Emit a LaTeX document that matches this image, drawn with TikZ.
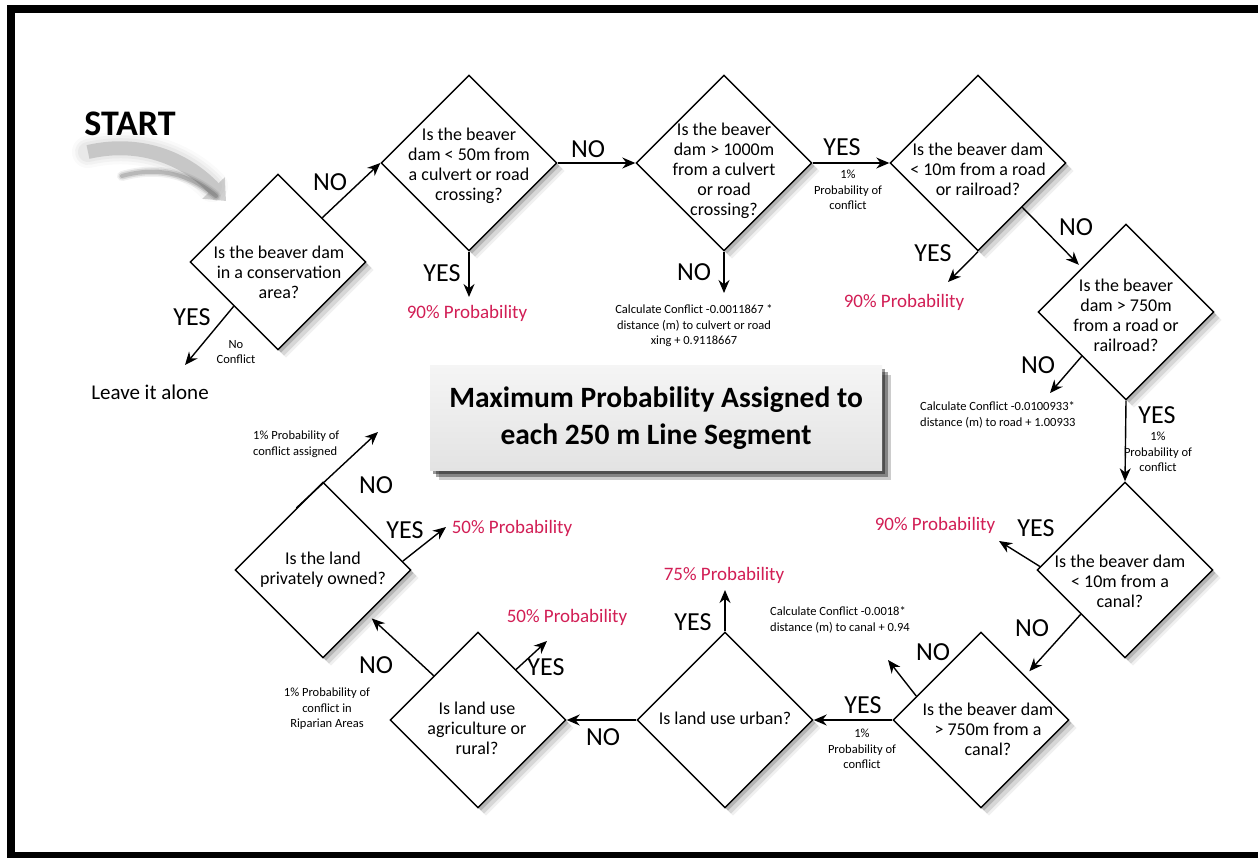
\documentclass[tikz,border=0pt]{standalone}
\usepackage{fontspec}
\setmainfont{Carlito}
\usetikzlibrary{shapes.geometric,arrows.meta,calc,shadows}
\definecolor{probred}{RGB}{210,30,85}
\begin{document}
\begin{tikzpicture}[x=1pt,y=-1pt,
  dia/.style={diamond, draw=black, line width=1.4pt, fill=white, minimum width=176pt, minimum height=176pt, inner sep=0pt,
    drop shadow={shadow xshift=8pt,shadow yshift=-8pt,opacity=0.06,fill=black},
    drop shadow={shadow xshift=6pt,shadow yshift=-6pt,opacity=0.10,fill=black},
    drop shadow={shadow xshift=3pt,shadow yshift=-3pt,opacity=0.16,fill=black}},
  dtext/.style={align=center, font=\fontsize{18}{20}\selectfont, inner sep=0pt},
  yn/.style={font=\fontsize{26}{30}\selectfont, inner sep=0pt},
  small/.style={align=center, font=\fontsize{12.5}{15.5}\selectfont, inner sep=0pt},
  prob/.style={font=\fontsize{19}{22}\selectfont, text=probred, inner sep=0pt},
  arr/.style={line width=1.4pt, -{Stealth[length=13pt,width=11pt]}},
  titlebox/.style={draw=none, top color=gray!8, bottom color=gray!22, minimum width=452pt, minimum height=105pt,
    align=center, font=\fontsize{29.5}{37}\selectfont\bfseries,
    drop shadow={shadow xshift=9pt,shadow yshift=-9pt,opacity=0.2,fill=black},
    drop shadow={shadow xshift=6pt,shadow yshift=-6pt,opacity=0.35,fill=black},
    drop shadow={shadow xshift=3pt,shadow yshift=-3pt,opacity=0.4,fill=black}}
]
\useasboundingbox (0,0) rectangle (1258,857);
\fill[white] (0,0) rectangle (1258,857);
\draw[line width=8pt] (11,9) rectangle (1275,856);

% START and its arrow
\node[font=\fontsize{36}{40}\selectfont\bfseries, inner sep=0pt] (start) at (130,124) {START};
\coordinate (sa) at (88,152);
\coordinate (sb) at (226,201);
\foreach \w/\o in {32/0.04,26/0.06,20/0.08} {
  \draw[line width=\w pt, gray, opacity=\o, line cap=round] (sa) .. controls (140,140) and (185,158) .. (212,186);
}
\begin{scope}[transparency group, opacity=0.5]
\draw[line width=14pt, gray!70, -{Triangle[length=18pt,width=30pt]}] (sa) .. controls (140,140) and (185,158) .. (sb);
\end{scope}
\foreach \w/\o in {10/0.06,7/0.1,4/0.14} {
  \draw[line width=\w pt, black, opacity=\o, line cap=round] (122,176) .. controls (158,166) and (190,174) .. (216,196);
}

% title box
\node[titlebox] (title) at (656,418) {Maximum Probability Assigned to\\each 250 m Line Segment};

% diamonds
\node[dia] (d1) at (278,262) {};
\node[dia] (d2) at (469,163) {};
\node[dia] (d3) at (724,163) {};
\node[dia] (d4) at (978,163) {};
\node[dia] (d5) at (1126,312) {};
\node[dia] (d6) at (1125,570) {};
\node[dia] (d7) at (981,720) {};
\node[dia] (d8) at (725,720) {};
\node[dia] (d9) at (478,720) {};
\node[dia] (d10) at (323,570) {};

\node[dtext] (t1) at (279,272) {Is the beaver dam\\in a conservation\\area?};
\node[dtext] (t2) at (469,166) {Is the beaver\\dam < 50m from\\a culvert or road\\crossing?};
\node[dtext] (t3) at (724,171) {Is the beaver\\dam > 1000m\\from a culvert\\or road\\crossing?};
\node[dtext] (t4) at (978,169) {Is the beaver dam\\< 10m from a road\\or railroad?};
\node[dtext] (t5) at (1126,315) {Is the beaver\\dam > 750m\\from a road or\\railroad?};
\node[dtext] (t6) at (1120,581) {Is the beaver dam\\< 10m from a\\canal?};
\node[dtext] (t7) at (988,729) {Is the beaver dam\\> 750m from a\\canal?};
\node[dtext] (t8) at (725,718) {Is land use urban?};
\node[dtext] (t9) at (477,728) {Is land use\\agriculture or\\rural?};
\node[dtext] (t10) at (323,570) {Is the land\\privately owned?};

% free ends
\coordinate (e1) at (185,365);
\coordinate (e2) at (469,297);
\coordinate (e3) at (724,293);
\coordinate (e4) at (948,282);
\coordinate (e5) at (1050,393);
\coordinate (e6) at (999,541);
\coordinate (e7) at (888,660);
\coordinate (e8) at (725,590);
\coordinate (e9) at (547,641);
\coordinate (e10) at (446,527);
\coordinate (e11) at (378,432);

% connectors
\draw[arr] ($(d1.north)!0.5!(d1.east)$) -- (d2.west);
\draw[arr] ($(d1.west)!0.5!(d1.south)$) -- (e1);
\draw[arr] (d2.east) -- (d3.west);
\draw[arr] (d2.south) -- (e2);
\draw[arr] (d3.east) -- (d4.west);
\draw[arr] (d3.south) -- (e3);
\draw[arr] (d4.south) -- (e4);
\draw[arr, shorten >=4pt] ($(d4.east)!0.5!(d4.south)$) -- ($(d5.west)!0.5!(d5.north)$);
\draw[arr] ($(d5.west)!0.5!(d5.south)$) -- (e5);
\draw[arr] (d5.south) -- (d6.north);
\draw[arr] ($(d6.west)!0.04!(d6.north)$) -- (e6);
\draw[arr, shorten >=6pt] ($(d6.west)!0.5!(d6.south)$) -- ($(d7.north)!0.5!(d7.east)$);
\draw[arr] ($(d7.west)!0.27!(d7.north)$) -- (e7);
\draw[arr] (d7.west) -- (d8.east);
\draw[arr] (d8.north) -- (e8);
\draw[arr] (d8.west) -- (d9.east);
\draw[arr] ($(d9.north)!0.43!(d9.east)$) -- (e9);
\draw[arr, shorten >=6pt] ($(d9.west)!0.5!(d9.north)$) -- ($(d10.south)!0.5!(d10.east)$);
\draw[arr] ($(d10.east)!0.1!(d10.north)$) -- (e10);
\draw[arr] ($(d10.west)!0.7!(d10.north)$) -- (e11);

% YES / NO labels
\node[yn] (l1) at (330,182) {NO};
\node[yn] (l2) at (192,317) {YES};
\node[yn] (l3) at (588,149) {NO};
\node[yn] (l4) at (442,273) {YES};
\node[yn] (l5) at (842,147) {YES};
\node[yn] (l6) at (694,272) {NO};
\node[yn] (l7) at (933,253) {YES};
\node[yn] (l8) at (1076,227) {NO};
\node[yn] (l9) at (1038,365) {NO};
\node[yn] (l10) at (1157,415) {YES};
\node[yn] (l11) at (1036,528) {YES};
\node[yn] (l12) at (1032,628) {NO};
\node[yn] (l13) at (933,652) {NO};
\node[yn] (l14) at (863,705) {YES};
\node[yn] (l15) at (693,622) {YES};
\node[yn] (l16) at (603,737) {NO};
\node[yn] (l17) at (546,667) {YES};
\node[yn] (l18) at (376,665) {NO};
\node[yn] (l19) at (405,530) {YES};
\node[yn] (l20) at (376,485) {NO};

% small texts
\node[small] (s1) at (236,352) {No\\Conflict};
\node[small] (s2) at (848,190) {1\%\\Probability of\\conflict};
\node[small] (s3) at (694,326) {Calculate Conflict -0.0011867 *\\distance (m) to culvert or road\\xing + 0.9118667};
\node[small, align=left, anchor=west] (s4) at (920,415) {Calculate Conflict -0.0100933*\\distance (m) to road + 1.00933};
\node[small] (s5) at (1158,452) {1\%\\Probability of\\conflict};
\node[small, align=left, anchor=west] (s6) at (770,620) {Calculate Conflict -0.0018*\\distance (m) to canal + 0.94};
\node[small] (s7) at (862,749) {1\%\\Probability of\\conflict};
\node[small] (s8) at (327,709) {1\% Probability of\\conflict in\\Riparian Areas};
\node[small, align=left, anchor=west] (s9) at (253,444) {1\% Probability of\\conflict assigned};

% outcomes
\node[font=\fontsize{21}{24}\selectfont, inner sep=0pt] (leave) at (150,392) {Leave it alone};
\node[prob] (p1) at (467,313) {90\% Probability};
\node[prob] (p2) at (904,302) {90\% Probability};
\node[prob] (p3) at (935,525) {90\% Probability};
\node[prob] (p4) at (724,575) {75\% Probability};
\node[prob] (p5) at (567,617) {50\% Probability};
\node[prob] (p6) at (512,528) {50\% Probability};
\end{tikzpicture}
\end{document}
